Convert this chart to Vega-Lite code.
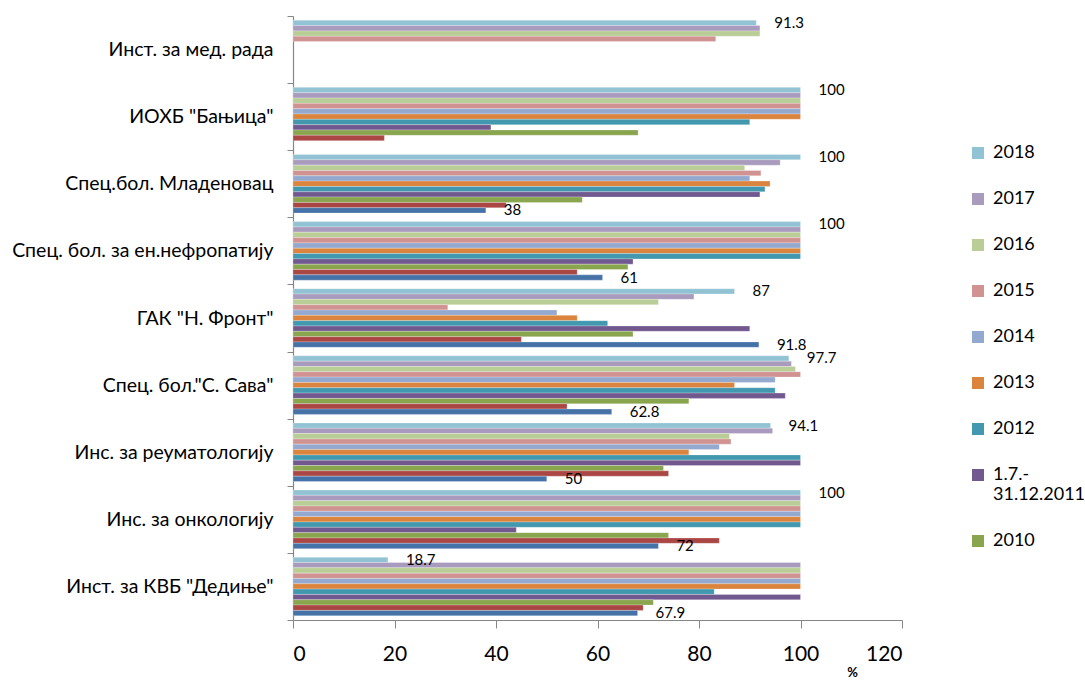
{
  "$schema": "https://vega.github.io/schema/vega-lite/v6.json",
  "autosize": {"type": "none"},
  "width": 609,
  "height": 604,
  "padding": {"left": 293, "top": 16, "right": 183, "bottom": 61},
  "background": "white",
  "config": {
    "font": "Lato, Noto Sans",
    "view": {"stroke": null}
  },
  "data": {
    "values": [
      {"inst": "Инст. за мед. рада", "series": "2018", "value": 91.3},
      {"inst": "Инст. за мед. рада", "series": "2017", "value": 92},
      {"inst": "Инст. за мед. рада", "series": "2016", "value": 92},
      {"inst": "Инст. за мед. рада", "series": "2015", "value": 83.3},

      {"inst": "ИОХБ \"Бањица\"", "series": "2018", "value": 100},
      {"inst": "ИОХБ \"Бањица\"", "series": "2017", "value": 100},
      {"inst": "ИОХБ \"Бањица\"", "series": "2016", "value": 100},
      {"inst": "ИОХБ \"Бањица\"", "series": "2015", "value": 100},
      {"inst": "ИОХБ \"Бањица\"", "series": "2014", "value": 100},
      {"inst": "ИОХБ \"Бањица\"", "series": "2013", "value": 100},
      {"inst": "ИОХБ \"Бањица\"", "series": "2012", "value": 90},
      {"inst": "ИОХБ \"Бањица\"", "series": "1.7.-31.12.2011", "value": 39},
      {"inst": "ИОХБ \"Бањица\"", "series": "2010", "value": 68},
      {"inst": "ИОХБ \"Бањица\"", "series": "2009", "value": 18},

      {"inst": "Спец.бол. Младеновац", "series": "2018", "value": 100},
      {"inst": "Спец.бол. Младеновац", "series": "2017", "value": 96},
      {"inst": "Спец.бол. Младеновац", "series": "2016", "value": 89},
      {"inst": "Спец.бол. Младеновац", "series": "2015", "value": 92.2},
      {"inst": "Спец.бол. Младеновац", "series": "2014", "value": 90},
      {"inst": "Спец.бол. Младеновац", "series": "2013", "value": 94},
      {"inst": "Спец.бол. Младеновац", "series": "2012", "value": 93},
      {"inst": "Спец.бол. Младеновац", "series": "1.7.-31.12.2011", "value": 92},
      {"inst": "Спец.бол. Младеновац", "series": "2010", "value": 57},
      {"inst": "Спец.бол. Младеновац", "series": "2009", "value": 42},
      {"inst": "Спец.бол. Младеновац", "series": "2008", "value": 38},

      {"inst": "Спец. бол. за ен.нефропатију", "series": "2018", "value": 100},
      {"inst": "Спец. бол. за ен.нефропатију", "series": "2017", "value": 100},
      {"inst": "Спец. бол. за ен.нефропатију", "series": "2016", "value": 100},
      {"inst": "Спец. бол. за ен.нефропатију", "series": "2015", "value": 100},
      {"inst": "Спец. бол. за ен.нефропатију", "series": "2014", "value": 100},
      {"inst": "Спец. бол. за ен.нефропатију", "series": "2013", "value": 100},
      {"inst": "Спец. бол. за ен.нефропатију", "series": "2012", "value": 100},
      {"inst": "Спец. бол. за ен.нефропатију", "series": "1.7.-31.12.2011", "value": 67},
      {"inst": "Спец. бол. за ен.нефропатију", "series": "2010", "value": 66},
      {"inst": "Спец. бол. за ен.нефропатију", "series": "2009", "value": 56},
      {"inst": "Спец. бол. за ен.нефропатију", "series": "2008", "value": 61},

      {"inst": "ГАК \"Н. Фронт\"", "series": "2018", "value": 87},
      {"inst": "ГАК \"Н. Фронт\"", "series": "2017", "value": 79},
      {"inst": "ГАК \"Н. Фронт\"", "series": "2016", "value": 72},
      {"inst": "ГАК \"Н. Фронт\"", "series": "2015", "value": 30.5},
      {"inst": "ГАК \"Н. Фронт\"", "series": "2014", "value": 52},
      {"inst": "ГАК \"Н. Фронт\"", "series": "2013", "value": 56},
      {"inst": "ГАК \"Н. Фронт\"", "series": "2012", "value": 62},
      {"inst": "ГАК \"Н. Фронт\"", "series": "1.7.-31.12.2011", "value": 90},
      {"inst": "ГАК \"Н. Фронт\"", "series": "2010", "value": 67},
      {"inst": "ГАК \"Н. Фронт\"", "series": "2009", "value": 45},
      {"inst": "ГАК \"Н. Фронт\"", "series": "2008", "value": 91.8},

      {"inst": "Спец. бол.\"С. Сава\"", "series": "2018", "value": 97.7},
      {"inst": "Спец. бол.\"С. Сава\"", "series": "2017", "value": 98.2},
      {"inst": "Спец. бол.\"С. Сава\"", "series": "2016", "value": 99},
      {"inst": "Спец. бол.\"С. Сава\"", "series": "2015", "value": 100},
      {"inst": "Спец. бол.\"С. Сава\"", "series": "2014", "value": 95},
      {"inst": "Спец. бол.\"С. Сава\"", "series": "2013", "value": 87},
      {"inst": "Спец. бол.\"С. Сава\"", "series": "2012", "value": 95},
      {"inst": "Спец. бол.\"С. Сава\"", "series": "1.7.-31.12.2011", "value": 97},
      {"inst": "Спец. бол.\"С. Сава\"", "series": "2010", "value": 78},
      {"inst": "Спец. бол.\"С. Сава\"", "series": "2009", "value": 54},
      {"inst": "Спец. бол.\"С. Сава\"", "series": "2008", "value": 62.8},

      {"inst": "Инс. за реуматологију", "series": "2018", "value": 94.1},
      {"inst": "Инс. за реуматологију", "series": "2017", "value": 94.5},
      {"inst": "Инс. за реуматологију", "series": "2016", "value": 86},
      {"inst": "Инс. за реуматологију", "series": "2015", "value": 86.3},
      {"inst": "Инс. за реуматологију", "series": "2014", "value": 84},
      {"inst": "Инс. за реуматологију", "series": "2013", "value": 78},
      {"inst": "Инс. за реуматологију", "series": "2012", "value": 100},
      {"inst": "Инс. за реуматологију", "series": "1.7.-31.12.2011", "value": 100},
      {"inst": "Инс. за реуматологију", "series": "2010", "value": 73},
      {"inst": "Инс. за реуматологију", "series": "2009", "value": 74},
      {"inst": "Инс. за реуматологију", "series": "2008", "value": 50},

      {"inst": "Инс. за онкологију", "series": "2018", "value": 100},
      {"inst": "Инс. за онкологију", "series": "2017", "value": 100},
      {"inst": "Инс. за онкологију", "series": "2016", "value": 100},
      {"inst": "Инс. за онкологију", "series": "2015", "value": 100},
      {"inst": "Инс. за онкологију", "series": "2014", "value": 100},
      {"inst": "Инс. за онкологију", "series": "2013", "value": 100},
      {"inst": "Инс. за онкологију", "series": "2012", "value": 100},
      {"inst": "Инс. за онкологију", "series": "1.7.-31.12.2011", "value": 44},
      {"inst": "Инс. за онкологију", "series": "2010", "value": 74},
      {"inst": "Инс. за онкологију", "series": "2009", "value": 84},
      {"inst": "Инс. за онкологију", "series": "2008", "value": 72},

      {"inst": "Инст. за КВБ \"Дедиње\"", "series": "2018", "value": 18.7},
      {"inst": "Инст. за КВБ \"Дедиње\"", "series": "2017", "value": 100},
      {"inst": "Инст. за КВБ \"Дедиње\"", "series": "2016", "value": 100},
      {"inst": "Инст. за КВБ \"Дедиње\"", "series": "2015", "value": 100},
      {"inst": "Инст. за КВБ \"Дедиње\"", "series": "2014", "value": 100},
      {"inst": "Инст. за КВБ \"Дедиње\"", "series": "2013", "value": 100},
      {"inst": "Инст. за КВБ \"Дедиње\"", "series": "2012", "value": 83},
      {"inst": "Инст. за КВБ \"Дедиње\"", "series": "1.7.-31.12.2011", "value": 100},
      {"inst": "Инст. за КВБ \"Дедиње\"", "series": "2010", "value": 71},
      {"inst": "Инст. за КВБ \"Дедиње\"", "series": "2009", "value": 69},
      {"inst": "Инст. за КВБ \"Дедиње\"", "series": "2008", "value": 67.9}
    ]
  },
  "encoding": {
    "y": {
      "field": "inst",
      "type": "nominal",
      "sort": null,
      "scale": {"paddingInner": 0, "paddingOuter": 0},
      "axis": {
        "title": null,
        "labelFontSize": 19.5,
        "labelColor": "#000000",
        "labelPadding": 14,
        "tickBand": "extent",
        "tickSize": 6,
        "tickColor": "#868686",
        "domainColor": "#868686",
        "domainWidth": 1.2,
        "labelLimit": 300
      }
    },
    "yOffset": {
      "field": "series",
      "type": "nominal",
      "sort": ["2018", "2017", "2016", "2015", "2014", "2013", "2012", "1.7.-31.12.2011", "2010", "2009", "2008"],
      "scale": {
        "domain": ["2018", "2017", "2016", "2015", "2014", "2013", "2012", "1.7.-31.12.2011", "2010", "2009", "2008"],
        "paddingInner": 0,
        "paddingOuter": 0.8
      }
    },
    "x": {
      "field": "value",
      "type": "quantitative",
      "scale": {"domain": [0, 120], "nice": false},
      "axis": {
        "values": [0, 20, 40, 60, 80, 100, 120],
        "grid": false,
        "title": "%",
        "titleFontSize": 13,
        "titleFontWeight": "bold",
        "titleX": 559,
        "titleY": 52,
        "titleBaseline": "middle",
        "titleAlign": "center",
        "labelFontSize": 21,
        "labelColor": "#000000",
        "labelPadding": 15,
        "tickSize": 8,
        "tickColor": "#868686",
        "domainColor": "#868686",
        "domainWidth": 1.2
      }
    }
  },
  "layer": [
    {
      "mark": {"type": "bar", "stroke": "#ffffff", "strokeOpacity": 0.5, "strokeWidth": 0.5},
      "encoding": {
        "color": {
          "field": "series",
          "type": "nominal",
          "scale": {
            "domain": ["2018", "2017", "2016", "2015", "2014", "2013", "2012", "1.7.-31.12.2011", "2010", "2009", "2008"],
            "range": ["#92C3D4", "#A99BBD", "#B9CD96", "#D19392", "#93A9CF", "#DB843D", "#4198AF", "#71588F", "#89A54E", "#AA4643", "#4572A7"]
          },
          "legend": {
            "values": ["2018", "2017", "2016", "2015", "2014", "2013", "2012", "1.7.-31.12.2011", "2010"],
            "title": null,
            "orient": "none",
            "legendX": 676,
            "legendY": 128,
            "symbolType": "square",
            "symbolSize": 144,
            "symbolStrokeWidth": 0,
            "labelFontSize": 18,
            "labelColor": "#000000",
            "labelOffset": 6,
            "rowPadding": 28,
            "clipHeight": 18,
            "labelExpr": "datum.label == '1.7.-31.12.2011' ? ['1.7.-', '31.12.2011'] : datum.label"
          }
        }
      }
    },
    {
      "transform": [{"filter": {"field": "series", "oneOf": ["2018", "2008"]}}],
      "mark": {"type": "text", "align": "left", "baseline": "middle", "dx": 18, "fontSize": 15, "color": "#000000"},
      "encoding": {
        "text": {"field": "value", "type": "quantitative"}
      }
    }
  ]
}
